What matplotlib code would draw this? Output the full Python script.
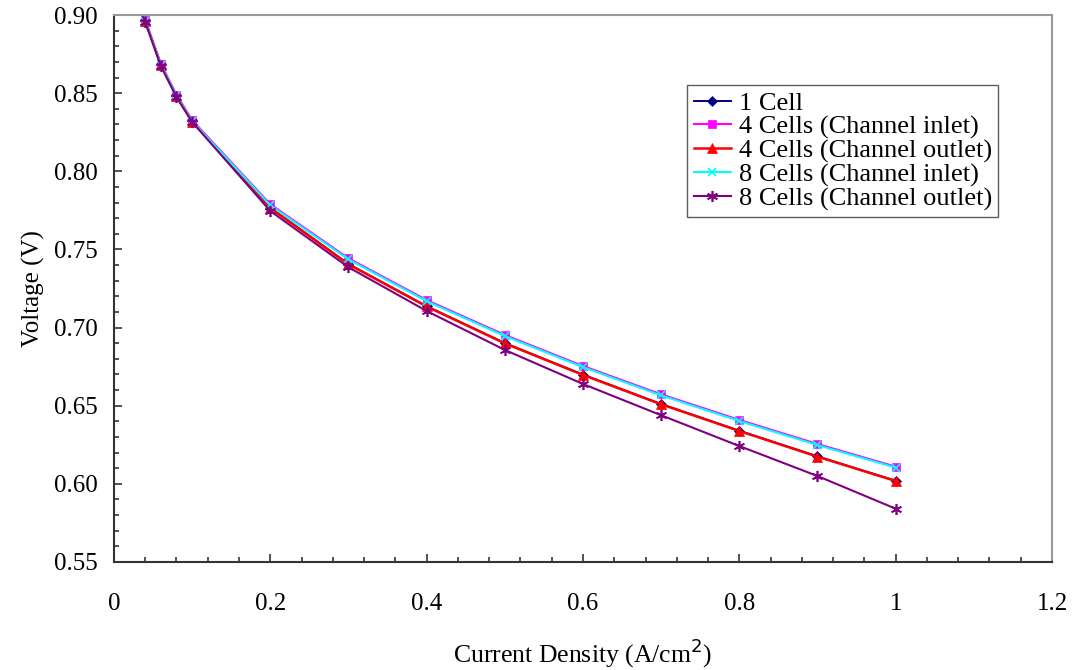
import matplotlib
matplotlib.use("Agg")
import matplotlib.pyplot as plt
from matplotlib.ticker import MultipleLocator, FormatStrFormatter

# current density (A/cm2)
current = [0.02, 0.04, 0.06, 0.08, 0.1, 0.2, 0.3, 0.4, 0.5, 0.6, 0.7, 0.8, 0.9, 1.0]

# voltages (V)
v_1cell = [0.9242, 0.8964, 0.8682, 0.8482, 0.8320, 0.7767, 0.7407, 0.7137, 0.6901, 0.6699, 0.6511, 0.6340, 0.6176, 0.6020]
v_4in = [0.9250, 0.8968, 0.8688, 0.8490, 0.8328, 0.7789, 0.7443, 0.7176, 0.6953, 0.6754, 0.6573, 0.6409, 0.6255, 0.6110]
v_4out = [0.9240, 0.8962, 0.8680, 0.8480, 0.8318, 0.7765, 0.7405, 0.7135, 0.6899, 0.6697, 0.6509, 0.6338, 0.6174, 0.6018]
v_8in = [0.9244, 0.8962, 0.8683, 0.8485, 0.8322, 0.7782, 0.7436, 0.7169, 0.6946, 0.6747, 0.6566, 0.6402, 0.6248, 0.6104]
v_8out = [0.9220, 0.8955, 0.8674, 0.8475, 0.8316, 0.7746, 0.7386, 0.7106, 0.6857, 0.6639, 0.6439, 0.6242, 0.6050, 0.5841]

labels = ["1 Cell", "4 Cells (Channel inlet)", "4 Cells (Channel outlet)",
          "8 Cells (Channel inlet)", "8 Cells (Channel outlet)"]

plt.rcParams["font.family"] = ["Liberation Serif", "DejaVu Serif"]

fig = plt.figure(figsize=(10.77, 6.70), dpi=100)
ax = fig.add_axes([0.1058, 0.1612, 0.871, 0.8164])

star = (6, 2, 0)
styles = [
    (v_1cell, "#000080", "D", 5, 1.4),
    (v_4in, "#FF00FF", "s", 6, 1.5),
    (v_4out, "#FF0000", "^", 7, 1.8),
    (v_8in, "#00FFFF", "x", 6, 1.5),
    (v_8out, "#800080", star, 8, 1.5),
]
for (vals, color, marker, ms, lw), label in zip(styles, labels):
    ax.plot(current, vals, color=color, marker=marker, markersize=ms,
            markeredgewidth=1.2 if marker in ("x", star) else 0.5,
            linewidth=lw, label=label)

ax.set_xlim(0, 1.2)
ax.set_ylim(0.55, 0.90)
ax.xaxis.set_major_locator(MultipleLocator(0.2))
ax.xaxis.set_minor_locator(MultipleLocator(0.04))
ax.yaxis.set_major_locator(MultipleLocator(0.05))
ax.yaxis.set_minor_locator(MultipleLocator(0.01))
ax.yaxis.set_major_formatter(FormatStrFormatter("%.2f"))
ax.xaxis.set_major_formatter(plt.FuncFormatter(lambda v, p: "%g" % round(v, 2)))

ax.tick_params(which="both", direction="in", labelsize=18, color="#333333", width=1.2)
ax.tick_params(which="major", length=6)
ax.tick_params(which="minor", length=3.5)
ax.tick_params(axis="x", which="major", pad=22)
ax.tick_params(axis="y", which="major", pad=12)

for side in ("left", "bottom"):
    ax.spines[side].set_color("#333333")
    ax.spines[side].set_linewidth(1.5)
for side in ("top", "right"):
    ax.spines[side].set_color("#999999")
    ax.spines[side].set_linewidth(1.5)

ax.set_xlabel("Current Density (A/cm$^2$)", fontsize=18.5, labelpad=16)
ax.set_ylabel("Voltage (V)", fontsize=18, labelpad=6)

leg = ax.legend(loc="upper left", bbox_to_anchor=(0.611, 0.872), fontsize=19,
                frameon=True, fancybox=False, edgecolor="#333333",
                handlelength=1.4, handletextpad=0.3, labelspacing=0.0,
                borderpad=0.25, borderaxespad=0)
leg.get_frame().set_linewidth(1.0)

fig.savefig("out.png", dpi=100)
